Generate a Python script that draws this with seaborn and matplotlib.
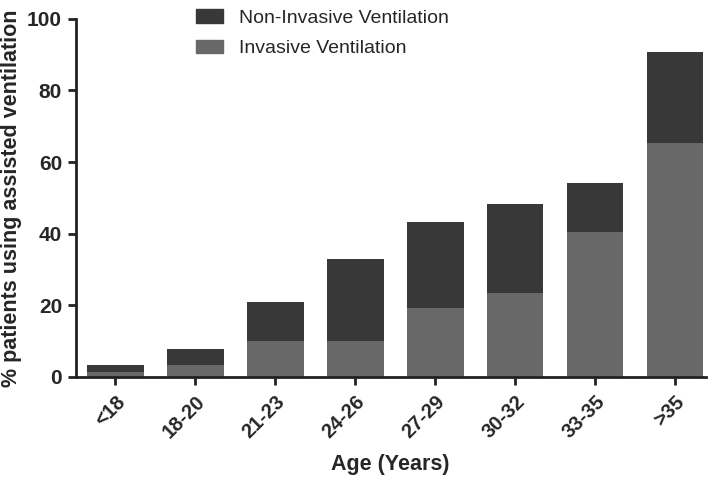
import pandas as pd
import matplotlib
matplotlib.use("Agg")
import matplotlib.pyplot as plt
import matplotlib.patches as mpatches
import seaborn as sns

# values
age_groups = ["<18", "18-20", "21-23", "24-26", "27-29", "30-32", "33-35", ">35"]
total_pct = [3.2, 7.8, 21.0, 33.0, 43.2, 48.3, 54.1, 90.6]      # non-invasive + invasive
invasive_pct = [1.4, 3.2, 9.9, 9.9, 19.2, 23.4, 40.4, 65.4]

df = pd.DataFrame({"age": age_groups, "total": total_pct, "invasive": invasive_pct})

dark = "#383838"
grey = "#686868"

sns.set_style("ticks")
plt.rcParams["font.family"] = ["Liberation Sans", "DejaVu Sans"]

fig = plt.figure(figsize=(7.17, 4.82), dpi=100)
ax = fig.add_axes([0.106, 0.218, 0.879, 0.743])

sns.barplot(data=df, x="age", y="total", color=dark, saturation=1, width=0.71,
            linewidth=0, ax=ax)
sns.barplot(data=df, x="age", y="invasive", color=grey, saturation=1, width=0.71,
            linewidth=0, ax=ax)

ax.set_ylim(0, 100)
ax.set_xlim(-0.49, 7.39)
ax.set_yticks([0, 20, 40, 60, 80, 100])
ax.set_xlabel("Age (Years)", fontsize=15.5, fontweight="bold")
ax.xaxis.set_label_coords(0.498, -0.215)
ax.set_ylabel("% patients using assisted ventilation", fontsize=15.5, fontweight="bold", labelpad=4)

for lab in ax.get_yticklabels():
    lab.set_fontweight("bold")
    lab.set_fontsize(15)
for lab in ax.get_xticklabels():
    lab.set_fontweight("bold")
    lab.set_fontsize(14.5)
    lab.set_rotation(45)
    lab.set_ha("right")
    lab.set_rotation_mode("anchor")

ax.tick_params(axis="both", width=2, length=6, color="#222222", pad=4)
ax.tick_params(axis="x", pad=5)
for side in ["left", "bottom"]:
    ax.spines[side].set_linewidth(2)
    ax.spines[side].set_color("#222222")
sns.despine(ax=ax)

handles = [mpatches.Patch(color=dark, label="Non-Invasive Ventilation"),
           mpatches.Patch(color=grey, label="Invasive Ventilation")]
ax.legend(handles=handles, loc="upper left", bbox_to_anchor=(0.163, 1.075), frameon=False,
          fontsize=14, handlelength=1.4, handleheight=0.7, handletextpad=0.8,
          labelspacing=0.65)

fig.savefig("out.png", dpi=100)
